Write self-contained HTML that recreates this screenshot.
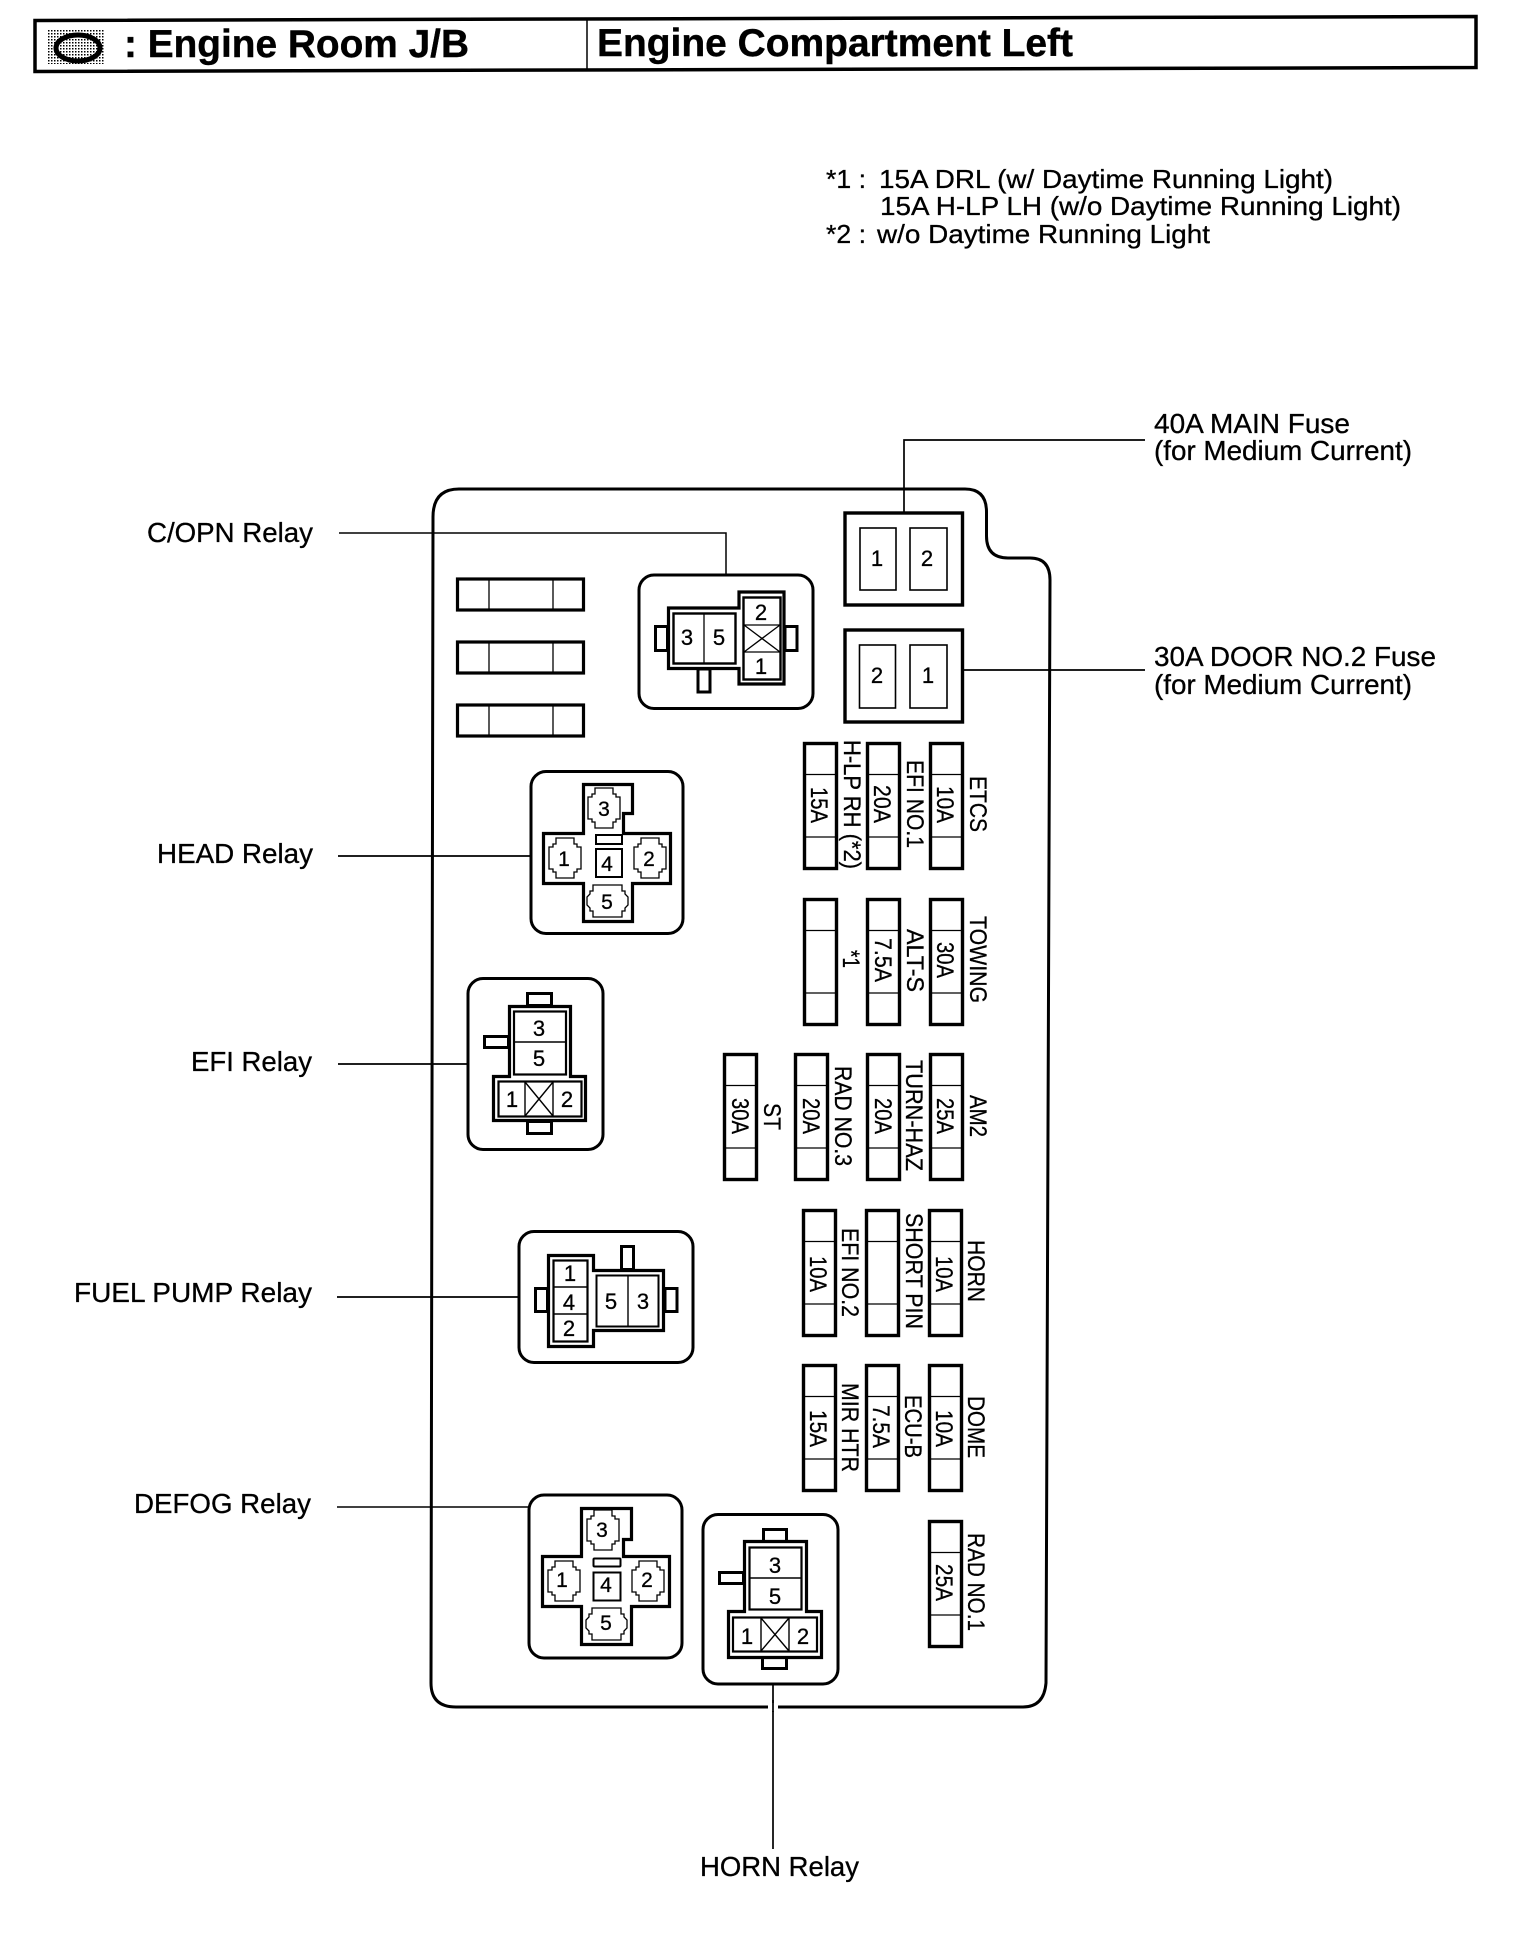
<!DOCTYPE html>
<html><head><meta charset="utf-8"><title>Engine Room J/B</title>
<style>html,body{margin:0;padding:0;background:#fff}svg{display:block}text{font-family:"Liberation Sans",sans-serif;fill:#000;stroke:#000;stroke-width:.3}</style></head>
<body>
<svg xmlns="http://www.w3.org/2000/svg" width="1536" height="1934" viewBox="0 0 1536 1934">
<defs>
<pattern id="st" width="3" height="3" patternUnits="userSpaceOnUse"><rect width="3" height="3" fill="#fff"/><rect width="1.5" height="1.5" fill="#000"/></pattern>
<g id="f"><rect x=".5" y=".5" width="32" height="125" fill="#fff" stroke="#000" stroke-width="3.4"/><path d="M2 31.5H31M2 94H31" stroke="#000" stroke-width="1.3" fill="none"/></g>
<path id="pt" d="M7 0H25V6H28V9H32V31H28V34H25V40H7V34H4V31H0V9H4V6H7Z" fill="#fff" stroke="#000" stroke-width="1.3"/>
<path id="pw" d="M6 0H35V6H38V9L41 12V20L38 23V26H35V32H6V26H3V23L0 20V12L3 9V6H6Z" fill="#fff" stroke="#000" stroke-width="1.3"/>
<g id="hf"><rect x=".5" y="1" width="126" height="31" fill="#fff" stroke="#000" stroke-width="3.2"/><path d="M32 2V31M96 2V31" stroke="#000" stroke-width="1.3"/></g>
</defs>
<rect width="1536" height="1934" fill="#fff"/>

<!-- Header -->
<path d="M35 20.5L1476 16.5V67.5L35 71.5Z" fill="#fff" stroke="#000" stroke-width="3.5"/>
<path d="M587 20V69" stroke="#000" stroke-width="1.5"/>
<rect x="48" y="29" width="57" height="35" fill="url(#st)"/>
<ellipse cx="78" cy="48" rx="22" ry="13" fill="url(#st)" stroke="#000" stroke-width="5"/>
<text x="124" y="57" font-size="39" font-weight="bold" textLength="345" lengthAdjust="spacingAndGlyphs" style="stroke-width:.4">: Engine Room J/B</text>
<text x="597" y="56" font-size="39" font-weight="bold" textLength="476" lengthAdjust="spacingAndGlyphs" style="stroke-width:.4">Engine Compartment Left</text>

<!-- Notes -->
<g font-size="26">
<text x="826" y="188" textLength="40" lengthAdjust="spacingAndGlyphs">*1 :</text>
<text x="879" y="188" textLength="454" lengthAdjust="spacingAndGlyphs">15A DRL (w/ Daytime Running Light)</text>
<text x="880" y="215" textLength="521" lengthAdjust="spacingAndGlyphs">15A H-LP LH (w/o Daytime Running Light)</text>
<text x="826" y="243" textLength="40" lengthAdjust="spacingAndGlyphs">*2 :</text>
<text x="877" y="243" textLength="333" lengthAdjust="spacingAndGlyphs">w/o Daytime Running Light</text>
</g>

<!-- Outer housing -->
<path d="M433 517Q433 489 459 489H965Q986.5 489 986.5 512V536Q986.5 558 1008 558H1030Q1050 558 1050 580L1046 1683Q1044 1707 1023 1707H456Q431 1707 431 1683Z" fill="#fff" stroke="#000" stroke-width="3"/>

<!-- Leaders -->
<g fill="none" stroke="#000">
<path d="M339 533H726V575" stroke-width="1.5"/>
<path d="M904 512V440H1145" stroke-width="1.7"/>
<path d="M963 670H1145" stroke-width="1.7"/>
<path d="M338 856H531" stroke-width="1.7"/>
<path d="M338 1064H468" stroke-width="1.7"/>
<path d="M337 1297H519" stroke-width="1.7"/>
<path d="M337 1507H529" stroke-width="1.5"/>
<path d="M773 1684V1849" stroke-width="1.7"/>
</g>
<rect x="768" y="1703" width="10" height="8" fill="#fff"/><path d="M773 1700V1712" stroke="#000" stroke-width="1.7"/>

<!-- Labels -->
<g font-size="27.5">
<text x="147" y="542" textLength="166" lengthAdjust="spacingAndGlyphs">C/OPN Relay</text>
<text x="157" y="863" textLength="156" lengthAdjust="spacingAndGlyphs">HEAD Relay</text>
<text x="191" y="1071" textLength="121" lengthAdjust="spacingAndGlyphs">EFI Relay</text>
<text x="74" y="1302" textLength="238" lengthAdjust="spacingAndGlyphs">FUEL PUMP Relay</text>
<text x="134" y="1513" textLength="177" lengthAdjust="spacingAndGlyphs">DEFOG Relay</text>
<text x="700" y="1876" textLength="159" lengthAdjust="spacingAndGlyphs">HORN Relay</text>
<text x="1154" y="433" textLength="196" lengthAdjust="spacingAndGlyphs">40A MAIN Fuse</text>
<text x="1154" y="460" textLength="258" lengthAdjust="spacingAndGlyphs">(for Medium Current)</text>
<text x="1154" y="666" textLength="282" lengthAdjust="spacingAndGlyphs">30A DOOR NO.2 Fuse</text>
<text x="1154" y="694" textLength="258" lengthAdjust="spacingAndGlyphs">(for Medium Current)</text>
</g>

<!-- Horizontal fuses -->
<use href="#hf" x="457" y="578"/><use href="#hf" x="457" y="641"/><use href="#hf" x="457" y="704"/>

<!-- Medium current fuses -->
<g fill="#fff" stroke="#000">
<rect x="845" y="513" width="117.5" height="92" stroke-width="3.4"/>
<rect x="860" y="528" width="36" height="62" stroke-width="1.6"/>
<rect x="910" y="528" width="37" height="62" stroke-width="1.6"/>
<rect x="845" y="630" width="117.5" height="92" stroke-width="3.4"/>
<rect x="859.5" y="645" width="36" height="63" stroke-width="1.6"/>
<rect x="910" y="645" width="37" height="63" stroke-width="1.6"/>
</g>
<g font-size="22" text-anchor="middle">
<text x="877" y="566">1</text><text x="927" y="566">2</text>
<text x="877" y="683">2</text><text x="928" y="683">1</text>
</g>

<!-- C/OPN relay -->
<g fill="#fff" stroke="#000">
<rect x="639" y="575" width="174" height="133.5" rx="15" stroke-width="3"/>
<rect x="655.5" y="626.5" width="12" height="24" stroke-width="3"/>
<rect x="785" y="626.5" width="12" height="24" stroke-width="3"/>
<rect x="698" y="669" width="12" height="23" stroke-width="3"/>
<path d="M668.5 608H739V592H784V684H739V668.5H668.5Z" stroke-width="3.2"/>
<rect x="673.5" y="613.5" width="62" height="50" stroke-width="2.4"/>
<rect x="743.5" y="597.5" width="37" height="82" stroke-width="2.4"/>
<path d="M704 614V663M744 625H780M744 652H780M744 625L780 652M780 625L744 652" stroke-width="1.3" fill="none"/>
</g>
<g font-size="22" text-anchor="middle">
<text x="687" y="645">3</text><text x="719" y="645">5</text><text x="761" y="620">2</text><text x="761" y="674">1</text>
</g>

<!-- HEAD relay -->
<g fill="#fff" stroke="#000">
<rect x="531" y="771.5" width="152" height="162" rx="15" stroke-width="3"/>
<path d="M583.5 784.5H632.5V813.5H623.5V833.5H670.5V883.5H632.5V921.5H583.5V883.5H543.5V833.5H583.5Z" stroke-width="3.2"/>
<use href="#pt" x="588" y="788"/>
<use href="#pt" x="549" y="838"/>
<use href="#pt" x="634" y="838"/>
<use href="#pw" x="587" y="885"/>
<rect x="596" y="835" width="26" height="9" stroke-width="2"/>
<rect x="596" y="849" width="26" height="28" stroke-width="2"/>
</g>
<g font-size="21" text-anchor="middle">
<text x="604" y="816">3</text><text x="564" y="866">1</text><text x="649" y="866">2</text><text x="607" y="871">4</text><text x="607" y="909">5</text>
</g>

<!-- EFI relay -->
<g fill="#fff" stroke="#000">
<rect x="468" y="978.5" width="135" height="171" rx="15" stroke-width="3"/>
<rect x="527.5" y="993.5" width="24" height="12" stroke-width="3"/>
<rect x="484.5" y="1036.5" width="24" height="11" stroke-width="3"/>
<rect x="527.5" y="1121.5" width="24" height="12" stroke-width="3"/>
<path d="M509.5 1006.5H570.5V1076.5H585.5V1120.5H493.5V1076.5H509.5Z" stroke-width="3.2"/>
<rect x="514" y="1011.5" width="52" height="63" stroke-width="2.2"/>
<rect x="498.5" y="1081.5" width="83" height="35" stroke-width="2.2"/>
<path d="M514 1042H566M525 1082V1116M553 1082V1116M525 1082L553 1116M553 1082L525 1116" stroke-width="1.4" fill="none"/>
</g>
<g font-size="22" text-anchor="middle">
<text x="539" y="1036">3</text><text x="539" y="1066">5</text><text x="512" y="1107">1</text><text x="567" y="1107">2</text>
</g>

<!-- FUEL PUMP relay -->
<g fill="#fff" stroke="#000">
<rect x="519" y="1231.5" width="174" height="131" rx="15" stroke-width="3"/>
<rect x="535.5" y="1288.5" width="12" height="23" stroke-width="3"/>
<rect x="665" y="1288.5" width="12" height="23" stroke-width="3"/>
<rect x="621.5" y="1246.5" width="12" height="23" stroke-width="3"/>
<path d="M548.5 1255.5H593.5V1270.5H663.5V1330.5H593.5V1346.5H548.5Z" stroke-width="3.2"/>
<rect x="553.5" y="1260.5" width="34" height="81" stroke-width="2.2"/>
<rect x="596.5" y="1275.5" width="62" height="51" stroke-width="2"/>
<path d="M554 1287H587M554 1314H587M628 1276V1326" stroke-width="1.4" fill="none"/>
</g>
<g font-size="22" text-anchor="middle">
<text x="570" y="1281">1</text><text x="569" y="1310">4</text><text x="569" y="1336">2</text><text x="611" y="1309">5</text><text x="643" y="1309">3</text>
</g>

<!-- DEFOG relay -->
<g fill="#fff" stroke="#000">
<rect x="529" y="1495" width="153" height="163" rx="15" stroke-width="3"/>
<path d="M581.5 1508.5H631.5V1539.5H623.5V1556.5H669.5V1606.5H631.5V1644.5H581.5V1606.5H542.5V1556.5H581.5Z" stroke-width="3.2"/>
<use href="#pt" x="587" y="1510"/>
<use href="#pt" x="548" y="1561"/>
<use href="#pt" x="632" y="1561"/>
<use href="#pw" x="586" y="1608"/>
<rect x="593.5" y="1558.5" width="27" height="8" rx="1" stroke-width="2"/>
<rect x="593.5" y="1572.5" width="27" height="28" stroke-width="2"/>
</g>
<g font-size="21" text-anchor="middle">
<text x="602" y="1537">3</text><text x="562" y="1587">1</text><text x="647" y="1587">2</text><text x="606" y="1592">4</text><text x="606" y="1630">5</text>
</g>

<!-- HORN relay -->
<g fill="#fff" stroke="#000">
<rect x="703" y="1514.5" width="135" height="169.5" rx="15" stroke-width="3"/>
<rect x="763.5" y="1529.5" width="23" height="12" stroke-width="3"/>
<rect x="719.5" y="1572.5" width="24" height="11" stroke-width="3"/>
<rect x="762.5" y="1657.5" width="24" height="11" stroke-width="3"/>
<path d="M744.5 1541.5H806.5V1611.5H821.5V1657.5H728.5V1611.5H744.5Z" stroke-width="3.2"/>
<rect x="749.5" y="1547.5" width="52" height="62" stroke-width="2.2"/>
<rect x="733" y="1617.5" width="84" height="34" stroke-width="2.2"/>
<path d="M750 1578H801M761 1618V1651M789 1618V1651M761 1618L789 1651M789 1618L761 1651" stroke-width="1.4" fill="none"/>
</g>
<g font-size="22" text-anchor="middle">
<text x="775" y="1573">3</text><text x="775" y="1604">5</text><text x="747" y="1644">1</text><text x="803" y="1644">2</text>
</g>

<!-- Vertical fuses -->
<use href="#f" x="804" y="743"/><use href="#f" x="867" y="743"/><use href="#f" x="930" y="743"/>
<use href="#f" x="804" y="899"/><use href="#f" x="867" y="899"/><use href="#f" x="930" y="899"/>
<use href="#f" x="724" y="1054"/><use href="#f" x="795" y="1054"/><use href="#f" x="867" y="1054"/><use href="#f" x="930" y="1054"/>
<use href="#f" x="803" y="1210"/><use href="#f" x="866" y="1210"/><use href="#f" x="929" y="1210"/>
<use href="#f" x="803" y="1365"/><use href="#f" x="866" y="1365"/><use href="#f" x="929" y="1365"/>
<use href="#f" x="929" y="1521"/>

<g font-size="24">
<text transform="translate(811 787) rotate(90)" textLength="36" lengthAdjust="spacingAndGlyphs">15A</text>
<text transform="translate(874 785) rotate(90)" textLength="38" lengthAdjust="spacingAndGlyphs">20A</text>
<text transform="translate(937 786) rotate(90)" textLength="37" lengthAdjust="spacingAndGlyphs">10A</text>
<text transform="translate(844 740) rotate(90)" textLength="129" lengthAdjust="spacingAndGlyphs">H-LP RH (*2)</text>
<text transform="translate(907 760) rotate(90)" textLength="88" lengthAdjust="spacingAndGlyphs">EFI NO.1</text>
<text transform="translate(970 776) rotate(90)" textLength="56" lengthAdjust="spacingAndGlyphs">ETCS</text>

<text transform="translate(843 950) rotate(90)" textLength="18" lengthAdjust="spacingAndGlyphs">*1</text>
<text transform="translate(875 938) rotate(90)" textLength="44" lengthAdjust="spacingAndGlyphs">7.5A</text>
<text transform="translate(907 929) rotate(90)" textLength="63" lengthAdjust="spacingAndGlyphs">ALT-S</text>
<text transform="translate(937 942) rotate(90)" textLength="36" lengthAdjust="spacingAndGlyphs">30A</text>
<text transform="translate(970 916) rotate(90)" textLength="87" lengthAdjust="spacingAndGlyphs">TOWING</text>

<text transform="translate(732 1098) rotate(90)" textLength="36" lengthAdjust="spacingAndGlyphs">30A</text>
<text transform="translate(764 1103) rotate(90)" textLength="27" lengthAdjust="spacingAndGlyphs">ST</text>
<text transform="translate(803 1098) rotate(90)" textLength="36" lengthAdjust="spacingAndGlyphs">20A</text>
<text transform="translate(835 1066) rotate(90)" textLength="100" lengthAdjust="spacingAndGlyphs">RAD NO.3</text>
<text transform="translate(875 1098) rotate(90)" textLength="36" lengthAdjust="spacingAndGlyphs">20A</text>
<text transform="translate(906 1060) rotate(90)" textLength="111" lengthAdjust="spacingAndGlyphs">TURN-HAZ</text>
<text transform="translate(937 1098) rotate(90)" textLength="36" lengthAdjust="spacingAndGlyphs">25A</text>
<text transform="translate(970 1095) rotate(90)" textLength="42" lengthAdjust="spacingAndGlyphs">AM2</text>

<text transform="translate(810 1256) rotate(90)" textLength="36" lengthAdjust="spacingAndGlyphs">10A</text>
<text transform="translate(842 1228) rotate(90)" textLength="89" lengthAdjust="spacingAndGlyphs">EFI NO.2</text>
<text transform="translate(906 1213) rotate(90)" textLength="116" lengthAdjust="spacingAndGlyphs">SHORT PIN</text>
<text transform="translate(936 1256) rotate(90)" textLength="36" lengthAdjust="spacingAndGlyphs">10A</text>
<text transform="translate(968 1240) rotate(90)" textLength="62" lengthAdjust="spacingAndGlyphs">HORN</text>

<text transform="translate(810 1410) rotate(90)" textLength="37" lengthAdjust="spacingAndGlyphs">15A</text>
<text transform="translate(842 1383) rotate(90)" textLength="89" lengthAdjust="spacingAndGlyphs">MIR HTR</text>
<text transform="translate(873 1405) rotate(90)" textLength="43" lengthAdjust="spacingAndGlyphs">7.5A</text>
<text transform="translate(905 1395) rotate(90)" textLength="63" lengthAdjust="spacingAndGlyphs">ECU-B</text>
<text transform="translate(936 1410) rotate(90)" textLength="37" lengthAdjust="spacingAndGlyphs">10A</text>
<text transform="translate(968 1396) rotate(90)" textLength="62" lengthAdjust="spacingAndGlyphs">DOME</text>

<text transform="translate(936 1564) rotate(90)" textLength="37" lengthAdjust="spacingAndGlyphs">25A</text>
<text transform="translate(968 1533) rotate(90)" textLength="98" lengthAdjust="spacingAndGlyphs">RAD NO.1</text>
</g>
</svg>
</body></html>
